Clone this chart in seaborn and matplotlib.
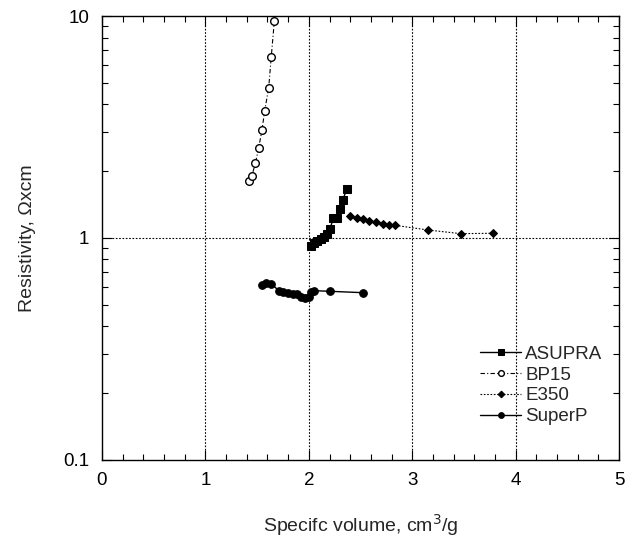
import numpy as np
import pandas as pd
import matplotlib
matplotlib.use("Agg")
import matplotlib.pyplot as plt
import seaborn as sns
from matplotlib.ticker import FixedLocator, FixedFormatter, LogLocator, NullFormatter, MultipleLocator

sns.set_style("ticks")
plt.rcParams['font.family'] = ['Liberation Sans', 'DejaVu Sans']

asupra_x = [2.018, 2.05, 2.082, 2.115, 2.147, 2.179, 2.205, 2.237, 2.27, 2.30, 2.328, 2.366]
asupra_y = [0.923, 0.946, 0.966, 0.986, 1.014, 1.046, 1.10, 1.227, 1.235, 1.35, 1.48, 1.66]

bp15_x = [1.42, 1.45, 1.483, 1.515, 1.547, 1.573, 1.612, 1.637, 1.667]
bp15_y = [1.81, 1.91, 2.17, 2.54, 3.06, 3.73, 4.75, 6.56, 9.52]

e350_x = [2.398, 2.463, 2.521, 2.585, 2.65, 2.714, 2.773, 2.837, 3.153, 3.469, 3.785]
e350_y = [1.256, 1.23, 1.214, 1.193, 1.177, 1.16, 1.148, 1.14, 1.086, 1.046, 1.05]

superp_x = [1.544, 1.586, 1.637, 1.712, 1.753, 1.80, 1.85, 1.889, 1.925, 1.966, 1.999, 2.018, 2.05, 2.205, 2.52]
superp_y = [0.612, 0.625, 0.623, 0.577, 0.571, 0.567, 0.561, 0.558, 0.544, 0.539, 0.541, 0.569, 0.579, 0.575, 0.567]

fig = plt.figure(figsize=(6.37, 5.36), dpi=100)
ax = fig.add_axes([0.160, 0.142, 0.812, 0.828])

# grid lines
for gx in [1, 2, 3, 4]:
    ax.axvline(gx, color='black', linestyle=(0, (1.5, 1.5)), linewidth=0.8, zorder=1)
ax.axhline(1, color='black', linestyle=(0, (1.5, 1.5)), linewidth=0.8, zorder=1)

sns.lineplot(x=asupra_x, y=asupra_y, ax=ax, sort=False, color='black', linewidth=1.0,
             marker='s', markersize=6, markerfacecolor='black', markeredgecolor='black',
             label='ASUPRA', zorder=3)
sns.lineplot(x=bp15_x, y=bp15_y, ax=ax, sort=False, color='black', linewidth=0.8,
             linestyle=(0, (4, 2, 1, 2)), marker='o', markersize=5.5, markerfacecolor='white',
             markeredgecolor='black', markeredgewidth=1.0, label='BP15', zorder=3)
sns.lineplot(x=e350_x, y=e350_y, ax=ax, sort=False, color='black', linewidth=0.8,
             linestyle=(0, (1.5, 1.5)), marker='D', markersize=4.5, markerfacecolor='black',
             markeredgecolor='black', label='E350', zorder=3)
sns.lineplot(x=superp_x, y=superp_y, ax=ax, sort=False, color='black', linewidth=1.0,
             marker='o', markersize=5.5, markerfacecolor='black', markeredgecolor='black',
             label='SuperP', zorder=3)

ax.set_yscale('log')
ax.set_xlim(0, 5)
ax.set_ylim(0.1, 10)

ax.xaxis.set_major_locator(MultipleLocator(1))
ax.xaxis.set_minor_locator(MultipleLocator(0.2))
ax.yaxis.set_major_locator(FixedLocator([0.1, 1, 10]))
ax.yaxis.set_major_formatter(FixedFormatter(['0.1', '1', '10']))
ax.yaxis.set_minor_locator(LogLocator(base=10, subs=np.arange(2, 10)))
ax.yaxis.set_minor_formatter(NullFormatter())

ax.tick_params(which='both', direction='in', top=True, right=True, labelsize=13.5, colors='black')
ax.tick_params(which='major', length=7, width=0.8, pad=9)
ax.tick_params(which='minor', length=4, width=0.8)
for s in ax.spines.values():
    s.set_linewidth(1.0)
    s.set_color('black')

ax.set_xlabel('Specifc volume, cm$^3$/g', fontsize=14, labelpad=16)
ax.set_ylabel('Resistivity, \u03a9xcm', fontsize=14, labelpad=20)

leg = ax.legend(loc='lower right', bbox_to_anchor=(1.0, 0.04), frameon=False, fontsize=13.5,
                handlelength=2.2, handletextpad=0.2, labelspacing=0.2, markerscale=0.75)

fig.savefig('out.png', dpi=100)
